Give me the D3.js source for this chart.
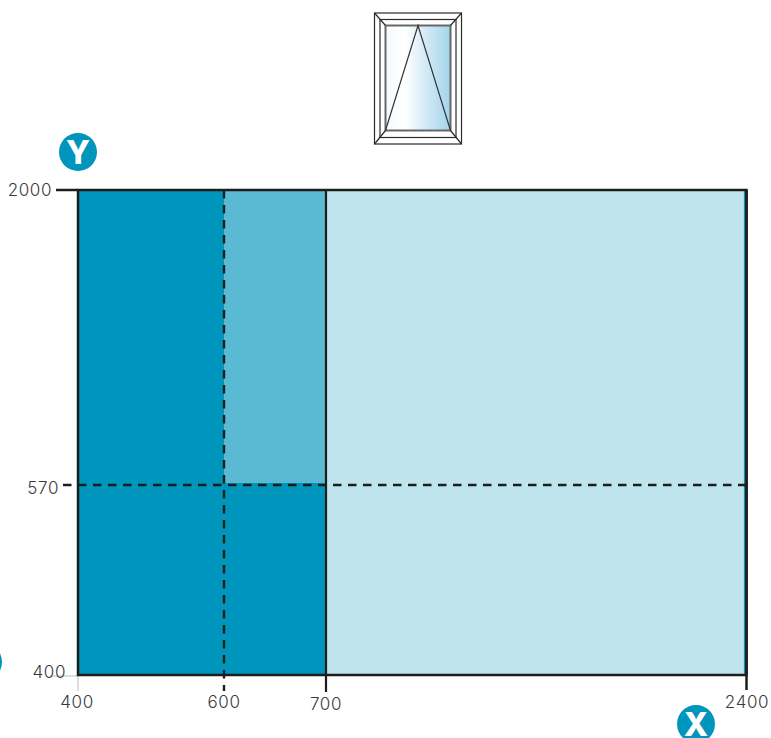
<!DOCTYPE html>
<html>
<head>
<meta charset="utf-8">
<style>
  html, body { margin: 0; padding: 0; background: #fff; overflow: hidden; }
  svg { display: block; }
  text { font-family: Inter, "Open Sans", sans-serif; font-weight: 300; fill: #3a3a3a; }
  .x-label, .y-label { letter-spacing: 0.6px; }
</style>
<script src="https://cdn.jsdelivr.net/npm/d3@7"></script>
</head>
<body>
<script>
// Chart data
const xTicks = [400, 600, 700, 2400];
const yTicks = [400, 570, 2000];
const axisLetters = ['Y', 'X'];
const regionNames = ['allowed', 'partial', 'outside'];
const regionX0 = [400, 600, 700];
const regionX1 = [700, 700, 2400];
const regionY0 = [400, 570, 400];
const regionY1 = [2000, 2000, 2000];
const regionColors = ['#0095bd', '#5ab9d3', '#c0e4ee'];

const svg = d3.select('body').append('svg')
    .attr('width', 771)
    .attr('height', 738);

// The axes are not to scale: each tick has its own position
const x = d3.scaleLinear().domain(xTicks).range([78, 224, 326, 746.5]);
const y = d3.scaleLinear().domain(yTicks).range([675, 485, 190]);

const ink = '#1d1d1b';

// Coloured zones (the dark one shows a bit under the 570 guide)
svg.selectAll('.region')
    .data(regionNames)
    .enter()
    .append('rect')
    .attr('class', 'region')
    .attr('x', (d, i) => x(regionX0[i]))
    .attr('y', (d, i) => y(regionY1[i]))
    .attr('width', (d, i) => x(regionX1[i]) - x(regionX0[i]))
    .attr('height', (d, i) => y(regionY0[i]) - y(regionY1[i]) - (d === 'partial' ? 2 : 0))
    .attr('fill', (d, i) => regionColors[i]);

// Grey ticks on the 400/400 corner
svg.append('line')
    .attr('x1', 50).attr('x2', x(400))
    .attr('y1', y(400) + 1).attr('y2', y(400) + 1)
    .attr('stroke', '#bdbdbd').attr('stroke-width', 1);
svg.append('line')
    .attr('x1', x(400)).attr('x2', x(400))
    .attr('y1', y(400)).attr('y2', 691)
    .attr('stroke', '#bdbdbd').attr('stroke-width', 1);

// Teal sliver along the right edge, inside the frame
svg.append('line')
    .attr('x1', x(2400) - 2).attr('x2', x(2400) - 2)
    .attr('y1', y(2000)).attr('y2', y(400))
    .attr('stroke', '#0095bd').attr('stroke-width', 1.2);

// Frame
svg.append('rect')
    .attr('x', x(400))
    .attr('y', y(2000))
    .attr('width', x(2400) - x(400))
    .attr('height', y(400) - y(2000))
    .attr('fill', 'none')
    .attr('stroke', ink)
    .attr('stroke-width', 2.5);

// Solid ticks and the 700 divider
svg.append('line')
    .attr('x1', 56).attr('x2', x(400))
    .attr('y1', y(2000)).attr('y2', y(2000))
    .attr('stroke', ink).attr('stroke-width', 2.5);
svg.append('line')
    .attr('x1', x(700)).attr('x2', x(700))
    .attr('y1', y(2000)).attr('y2', 692)
    .attr('stroke', ink).attr('stroke-width', 2.2);
svg.append('line')
    .attr('x1', x(2400)).attr('x2', x(2400))
    .attr('y1', y(2000)).attr('y2', 690)
    .attr('stroke', ink).attr('stroke-width', 2.5);

// Dashed guides
svg.append('line')
    .attr('x1', 63).attr('x2', x(2400))
    .attr('y1', y(570)).attr('y2', y(570))
    .attr('stroke', ink).attr('stroke-width', 2.4)
    .attr('stroke-dasharray', '8.5 6.5');
svg.append('line')
    .attr('x1', x(600)).attr('x2', x(600))
    .attr('y1', y(2000)).attr('y2', 691)
    .attr('stroke', ink).attr('stroke-width', 2.4)
    .attr('stroke-dasharray', '8.5 6.5');

// Tick labels
const xLabelX = { 400: 77, 600: 224, 700: 326, 2400: 747 };
const xLabelY = { 400: 708, 600: 708, 700: 709.5, 2400: 708 };
svg.selectAll('.x-label')
    .data(xTicks)
    .enter()
    .append('text')
    .attr('class', 'x-label')
    .attr('x', d => xLabelX[d])
    .attr('y', d => xLabelY[d])
    .attr('text-anchor', 'middle')
    .attr('font-size', 17)
    .text(d => d);

const yLabelX = { 400: 66, 570: 59, 2000: 52 };
const yLabelY = { 400: 678, 570: 494, 2000: 196 };
svg.selectAll('.y-label')
    .data(yTicks)
    .enter()
    .append('text')
    .attr('class', 'y-label')
    .attr('x', d => yLabelX[d])
    .attr('y', d => yLabelY[d])
    .attr('text-anchor', 'end')
    .attr('font-size', 17)
    .text(d => d);

// Axis badges
const badgeX = { Y: 78, X: 696 };
const badgeY = { Y: 152, X: 724 };
const badges = svg.selectAll('.badge')
    .data(axisLetters)
    .enter()
    .append('g')
    .attr('class', 'badge')
    .attr('transform', d => `translate(${badgeX[d]},${badgeY[d]})`);
badges.append('circle').attr('r', 19).attr('fill', '#0095bd');
badges.append('text')
    .attr('text-anchor', 'middle')
    .attr('y', 11.5)
    .attr('font-size', 32)
    .style('font-weight', 800)
    .style('fill', '#fff')
    .text(d => d);

// Third badge, cut by the left edge of the picture
svg.append('circle')
    .attr('cx', -17).attr('cy', 662).attr('r', 19)
    .attr('fill', '#0095bd');

// Window icon
const defs = svg.append('defs');
const glass = defs.append('linearGradient').attr('id', 'glass');
glass.append('stop').attr('offset', '0%').attr('stop-color', '#f4fafd');
glass.append('stop').attr('offset', '30%').attr('stop-color', '#ffffff');
glass.append('stop').attr('offset', '55%').attr('stop-color', '#dceef8');
glass.append('stop').attr('offset', '100%').attr('stop-color', '#a3d4ea');

const icon = svg.append('g')
    .attr('fill', 'none')
    .attr('stroke', '#2b2b2b')
    .attr('stroke-width', 1.2);
icon.append('rect')
    .attr('x', 385.5).attr('y', 25.5).attr('width', 65).attr('height', 105)
    .attr('fill', 'url(#glass)');
icon.append('rect').attr('x', 374.5).attr('y', 13).attr('width', 87).attr('height', 131);
icon.append('rect').attr('x', 380).attr('y', 19.5).attr('width', 76).attr('height', 118);
icon.append('rect')
    .attr('x', 385.5).attr('y', 25.5).attr('width', 65).attr('height', 105)
    .attr('stroke', '#666')
    .attr('stroke-width', 1.8);
icon.append('path').attr('d', 'M374.5 13L385.5 25.5M461.5 13L450.5 25.5M374.5 144L385.5 130.5M461.5 144L450.5 130.5');
icon.append('path').attr('d', 'M385.5 130.5L418 25.5L450.5 130.5').attr('stroke', '#333');
</script>
</body>
</html>
